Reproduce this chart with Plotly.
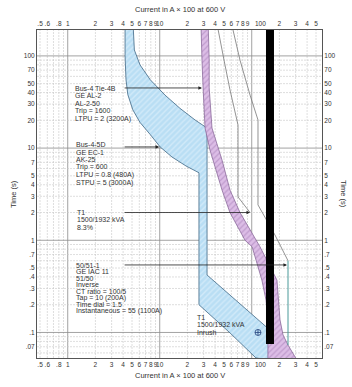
import math
import plotly.graph_objects as go

# ---------------- data (current in A x 100 at 600 V, time in s) ----------------
# Bus-4-5D  GE EC-1 / AK-25 band
b45_min_I = [4.2, 4.2, 4.3, 4.5, 5.1, 6.1, 7.9, 10.1, 13.6, 19.3, 26.7, 26.7, 58, 111]
b45_min_t = [250, 100, 55, 38, 26, 19, 14, 10.3, 8.0, 6.4, 5.4, 0.20, 0.099, 0.053]
b45_max_I = [5.1, 5.3, 6.1, 7.9, 11.4, 16.6, 24.2, 32.7, 32.7, 158, 158]
b45_max_t = [250, 116, 80, 55, 37.6, 27, 20.2, 16.5, 0.42, 0.106, 0.05]

# Bus-4 Tie-4B  GE AL-2 / AL-2-50 band
tie_min_I = [28.0, 28.1, 28.8, 29.6, 31.1, 35.2, 47.6, 58, 84.6, 101, 129, 143, 150, 150]
tie_min_t = [250, 191, 90, 45, 16.5, 9.5, 3.5, 2.0, 1.0, 0.85, 0.37, 0.225, 0.137, 0.05]
tie_max_I = [33.5, 34.0, 34.5, 34.5, 37.0, 47.6, 58.1, 74.6, 123, 188, 203, 219, 248, 311]
tie_max_t = [250, 191, 90, 45, 16.5, 7.4, 3.5, 2.0, 0.85, 0.37, 0.137, 0.094, 0.073, 0.05]

# T1 1500/1932 kVA damage curve
t1_I = [41, 43, 50, 58, 67.5, 71, 71, 96]
t1_t = [250, 191, 90, 43, 23, 17.8, 2.95, 2.0]

# 50/51-1 GE IAC 11 relay curve and instantaneous
rel_I = [60, 62.6, 74.6, 95.9, 117, 117, 179, 242, 248]
rel_t = [250, 191, 90, 37.6, 20.2, 2.42, 1.14, 0.64, 0.60]
inst_I = [248, 248]
inst_t = [0.60, 0.073]

# available fault current bar
fault_I = [158, 158]
fault_t = [250, 0.075]

# T1 inrush point
inrush_I = [117]
inrush_t = [0.1]

# tick labels ("100" is drawn separately, nudged right as in the reference)
x_tickvals = [0.5, 0.6, 0.8, 1, 2, 3, 4, 5, 6, 7, 8, 9, 10, 20, 30, 40, 50, 60, 70, 80, 90, 200, 300, 400, 500]
x_ticktext = [".5", ".6", ".8", "1", "2", "3", "4", "5", "6", "7", "8", "9", "10", "2", "3", "4", "5", "6", "7", "8", "9",
              "2", "3", "4", "5"]
x_tick_100 = 100
y_tickvals = [100, 70, 50, 40, 30, 20, 10, 7, 5, 4, 3, 2, 1, 0.7, 0.5, 0.4, 0.3, 0.2, 0.1, 0.07]
y_ticktext = ["100", "70", "50", "40", "30", "20", "10", "7", "5", "4", "3", "2", "1", ".7", ".5", ".4", ".3", ".2", ".1", ".07"]

# labels
lab_tie = ["Bus-4 Tie-4B", "GE AL-2", "AL-2-50", "Trip = 1600", "LTPU = 2 (3200A)"]
lab_b45 = ["Bus-4-5D", "GE EC-1", "AK-25", "Trip = 600", "LTPU = 0.8 (480A)", "STPU = 5 (3000A)"]
lab_t1 = ["T1", "1500/1932 kVA", "8.3%"]
lab_rel = ["50/51-1", "GE IAC 11", "51/50", "Inverse", "CT ratio = 100/5", "Tap = 10 (200A)",
           "Time dial = 1.5", "Instantaneous = 55 (1100A)"]
lab_inrush = ["T1", "1500/1932 kVA", "Inrush"]

# arrow targets (I, t) and common tail current
arrow_tail_I = 4.0
arrow_targets = [(28.8, 44.9), (9.85, 10.3), (96, 2.0), (242, 0.54)]

# ---------------- figure ----------------
L, R, T, B = 37, 30, 30, 29
W, H = 352, 387
PW, PH = W - L - R, H - T - B
XR = [-0.334, 2.764]
YR = [-1.277, 2.281]

fig = go.Figure()

fig.add_trace(go.Scatter(
    x=b45_min_I + b45_max_I[::-1], y=b45_min_t + b45_max_t[::-1],
    mode="lines", fill="toself", line=dict(color="#3d6684", width=0.8),
    fillcolor="#b9def4",
    fillpattern=dict(shape="/", bgcolor="#b9def4", fgcolor="#e9f6fd", size=4, solidity=0.35),
    hoverinfo="skip"))

fig.add_trace(go.Scatter(
    x=tie_min_I + tie_max_I[::-1], y=tie_min_t + tie_max_t[::-1],
    mode="lines", fill="toself", line=dict(color="#8a6a9a", width=0.8),
    fillcolor="#dcbde6",
    fillpattern=dict(shape="/", bgcolor="#dcbde6", fgcolor="#a27ab3", size=4, solidity=0.3),
    hoverinfo="skip"))

fig.add_trace(go.Scatter(x=t1_I, y=t1_t, mode="lines",
                         line=dict(color="#777777", width=0.8), hoverinfo="skip"))
fig.add_trace(go.Scatter(x=rel_I, y=rel_t, mode="lines",
                         line=dict(color="#777777", width=0.8), hoverinfo="skip"))
fig.add_trace(go.Scatter(x=inst_I, y=inst_t, mode="lines",
                         line=dict(color="#4a9a9a", width=1), hoverinfo="skip"))
fig.add_trace(go.Scatter(x=fault_I, y=fault_t, mode="lines",
                         line=dict(color="#000000", width=8), hoverinfo="skip"))
fig.add_trace(go.Scatter(x=inrush_I, y=inrush_t, mode="markers",
                         marker=dict(symbol="circle-cross-open", size=6, color="#1f3f7a",
                                     line=dict(width=0.8)), hoverinfo="skip"))
# dummy traces for secondary axes
fig.add_trace(go.Scatter(x=[1], y=[1], xaxis="x2", yaxis="y2", mode="markers",
                         marker=dict(opacity=0), hoverinfo="skip"))

# grid lines
shapes = []
for d in range(-1, 3):
    for m in range(1, 10):
        v = m * 10 ** d
        lv = math.log10(v)
        if XR[0] <= lv <= XR[1]:
            major = (m == 1)
            shapes.append(dict(type="line", xref="x", yref="paper", x0=v, x1=v, y0=0, y1=1,
                               layer="below",
                               line=dict(color="#8c8c8c" if major else "#c8c8c8",
                                         width=0.8 if major else 0.6,
                                         dash="solid" if major else "2px,1px")))
for d in range(-2, 3):
    for m in range(1, 10):
        v = m * 10 ** d
        lv = math.log10(v)
        if YR[0] <= lv <= YR[1]:
            major = (m == 1)
            shapes.append(dict(type="line", xref="paper", yref="y", x0=0, x1=1, y0=v, y1=v,
                               layer="below",
                               line=dict(color="#8c8c8c" if major else "#c8c8c8",
                                         width=0.8 if major else 0.6,
                                         dash="solid" if major else "2px,1px")))

FONT = "Liberation Sans, Arial, Helvetica, sans-serif"
TXT = "#333333"
ann = []


def px_x(px):
    return (px - L) / PW


def px_y(py):
    return (H - B - py) / PH


def block(lines, x_px, y0_px, step):
    for i, s in enumerate(lines):
        ann.append(dict(text=s, xref="paper", yref="paper", x=px_x(x_px), y=px_y(y0_px + i * step),
                        xanchor="left", yanchor="middle", showarrow=False,
                        font=dict(size=7, color=TXT, family=FONT)))


block(lab_tie, 73, 88, 7.7)
block(lab_b45, 74, 144.5, 7.6)
block(lab_t1, 75, 212, 7.6)
block(lab_rel, 74, 265, 6.5)
block(lab_inrush, 195, 317, 7.5)

for (ti, tt) in arrow_targets:
    ann.append(dict(text="", x=math.log10(ti), y=math.log10(tt), xref="x", yref="y",
                    ax=math.log10(arrow_tail_I), ay=math.log10(tt), axref="x", ayref="y",
                    showarrow=True, arrowhead=2, arrowsize=0.9, arrowwidth=0.8,
                    arrowcolor="#222222"))

# the "100" x tick label on both sides, nudged right of its grid line
for ypx in (23, 364):
    ann.append(dict(text="100", xref="x", yref="paper", x=math.log10(x_tick_100), y=px_y(ypx),
                    xanchor="left", yanchor="middle", xshift=1.5, showarrow=False,
                    font=dict(size=6.5, color=TXT, family=FONT)))

# axis titles
title = "Current in A × 100 at 600 V"
ann.append(dict(text=title, xref="paper", yref="paper", x=0.5, y=px_y(10), xanchor="center",
                yanchor="middle", showarrow=False, font=dict(size=7.5, color=TXT, family=FONT)))
ann.append(dict(text=title, xref="paper", yref="paper", x=0.5, y=px_y(375), xanchor="center",
                yanchor="middle", showarrow=False, font=dict(size=7.5, color=TXT, family=FONT)))
ann.append(dict(text="Time (s)", xref="paper", yref="paper", x=px_x(13), y=0.5, xanchor="center",
                yanchor="middle", textangle=-90, showarrow=False,
                font=dict(size=7.5, color=TXT, family=FONT)))
ann.append(dict(text="Time (s)", xref="paper", yref="paper", x=px_x(344), y=0.5, xanchor="center",
                yanchor="middle", textangle=90, showarrow=False,
                font=dict(size=7.5, color=TXT, family=FONT)))

axis_common = dict(type="log", showgrid=False, zeroline=False, showline=True, linecolor="#555555",
                   linewidth=1, ticks="", tickfont=dict(size=6.5, color=TXT, family=FONT))

fig.update_layout(
    width=W, height=H, margin=dict(l=L, r=R, t=T, b=B, pad=0),
    paper_bgcolor="white", plot_bgcolor="white", showlegend=False,
    font=dict(family=FONT, size=7, color=TXT),
    xaxis=dict(range=XR, tickvals=x_tickvals, ticktext=x_ticktext, mirror=True, tickangle=0,
               **axis_common),
    yaxis=dict(range=YR, tickvals=y_tickvals, ticktext=y_ticktext, mirror=True, **axis_common),
    xaxis2=dict(range=XR, tickvals=x_tickvals, ticktext=x_ticktext, overlaying="x", side="top",
                tickangle=0, **axis_common),
    yaxis2=dict(range=YR, tickvals=y_tickvals, ticktext=y_ticktext, overlaying="y", side="right",
                **axis_common),
    shapes=shapes, annotations=ann,
)

fig.write_html("out.html")
